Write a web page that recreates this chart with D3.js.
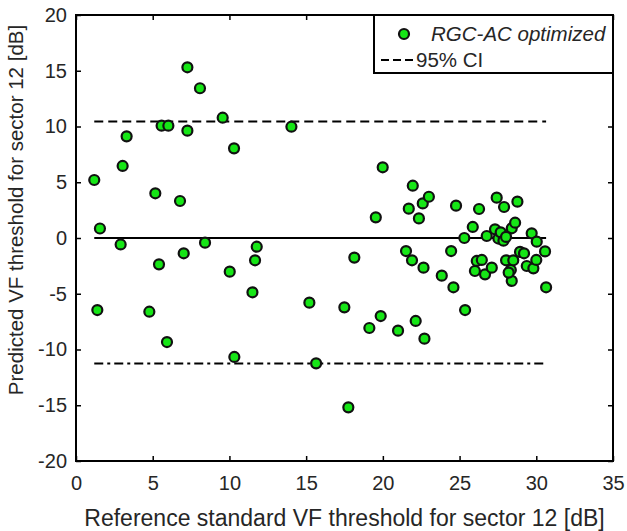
<!DOCTYPE html>
<html>
<head>
<meta charset="utf-8">
<script src="https://cdn.jsdelivr.net/npm/d3@7.9.0/dist/d3.min.js"></script>
<style>
  body { margin: 0; background: #fff; }
  svg { display: block; font-family: "Liberation Sans", Arial, sans-serif; }
</style>
</head>
<body>
<svg id="chart" width="627" height="531"></svg>
<script>
// reference VF threshold (x) vs predicted (y)
const refX = [
  1.19, 1.56, 1.39, 2.91, 3.04, 3.30, 4.78, 5.17, 5.41, 5.58,
  6.02, 5.93, 6.78, 7.02, 7.26, 7.26, 8.08, 8.41, 9.56, 10.02,
  10.30, 10.32, 11.50, 11.67, 11.78, 14.04, 15.21, 15.65, 17.49, 17.75,
  18.14, 19.12, 19.54, 19.86, 19.99, 20.99, 21.51, 21.69, 21.90, 21.95,
  22.14, 22.35, 22.60, 22.65, 22.71, 23.00, 23.84, 24.45, 24.60, 24.77,
  25.31, 25.36, 25.86, 26.00, 26.12, 26.27, 26.45, 26.66, 26.77, 27.10,
  27.31, 27.42, 27.53, 27.68, 27.86, 27.90, 28.03, 28.34, 28.40, 28.40,
  28.50, 28.62, 28.77, 28.94, 29.20, 29.38, 29.70, 29.81, 30.00, 30.03,
  30.57, 30.64, 28.20, 28.03
];
const predY = [
  5.20, 0.85, -6.46, -0.58, 6.46, 9.12, -6.61, 4.01, -2.36, 10.07,
  10.07, -9.33, 3.32, -1.37, 15.31, 9.63, 13.43, -0.42, 10.79, -3.02,
  8.04, -10.67, -4.87, -2.00, -0.78, 9.98, -5.80, -11.24, -6.22, -15.19,
  -1.76, -8.07, 1.85, -7.00, 6.34, -8.31, -1.17, 2.63, -2.00, 4.69,
  -7.44, 1.76, 3.10, -2.66, -9.03, 3.70, -3.38, -1.17, -4.42, 2.90,
  0.00, -6.46, 0.99, -2.96, -2.06, 2.60, -1.97, -3.26, 0.18, -2.66,
  0.78, 3.62, -0.05, 0.51, -0.24, 2.78, -2.00, -2.87, -3.85, 0.87,
  -2.00, 1.37, 3.26, -1.25, -1.37, -2.51, 0.42, -2.72, -1.97, -0.33,
  -1.20, -4.42, -3.10, 0.10
];

const ciUpper = 10.45;
const ciLower = -11.25;
const meanLine = 0;

const xTicks = [0, 5, 10, 15, 20, 25, 30, 35];
const yTicks = [-20, -15, -10, -5, 0, 5, 10, 15, 20];

const legendLabels = ['RGC-AC optimized', '95% CI'];

const svg = d3.select('#chart');
const L = 76, R = 613, T = 15, B = 461;
const ink = '#262626';

const x = d3.scaleLinear().domain([0, 35]).range([L, R]);
const y = d3.scaleLinear().domain([-20, 20]).range([B, T]);
const fmt = d => String(d);   // plain hyphen for negatives, like the original

// axes (ticks point inward, mirrored on top/right)
svg.append('g').attr('transform', `translate(0,${B})`)
  .call(d3.axisBottom(x).tickValues(xTicks).tickFormat(fmt).tickSizeInner(-5).tickSizeOuter(0).tickPadding(15))
  .call(g => g.select('.domain').remove());
svg.append('g').attr('transform', `translate(0,${T})`)
  .call(d3.axisTop(x).tickValues(xTicks).tickSizeInner(-5).tickSizeOuter(0).tickFormat(''))
  .call(g => g.select('.domain').remove());
svg.append('g').attr('transform', `translate(${L},0)`)
  .call(d3.axisLeft(y).tickValues(yTicks).tickFormat(fmt).tickSizeInner(-5).tickSizeOuter(0).tickPadding(9))
  .call(g => g.select('.domain').remove());
svg.append('g').attr('transform', `translate(${R},0)`)
  .call(d3.axisRight(y).tickValues(yTicks).tickSizeInner(-5).tickSizeOuter(0).tickFormat(''))
  .call(g => g.select('.domain').remove());

svg.selectAll('.tick text')
  .attr('font-size', 20)
  .attr('font-family', '"Liberation Sans", Arial, sans-serif')
  .attr('fill', ink);
svg.selectAll('.tick line').attr('stroke', '#000').attr('stroke-width', 1.5);

svg.append('rect')
  .attr('x', L).attr('y', T).attr('width', R - L).attr('height', B - T)
  .attr('fill', 'none').attr('stroke', '#000').attr('stroke-width', 2);

// reference lines spanning the data range
const xExt = d3.extent(refX);
const hLine = (v, dash) => svg.append('line')
  .attr('x1', x(xExt[0])).attr('x2', x(xExt[1]))
  .attr('y1', y(v)).attr('y2', y(v))
  .attr('stroke', '#000').attr('stroke-width', 2)
  .attr('stroke-dasharray', dash);
hLine(ciUpper, '9,5');
hLine(meanLine, null);
hLine(ciLower, '9,4,3,4');

// points
svg.append('g').selectAll('circle')
  .data(d3.range(refX.length))
  .join('circle')
  .attr('cx', i => x(refX[i]))
  .attr('cy', i => y(predY[i]))
  .attr('r', 5)
  .attr('fill', '#16e616')
  .attr('stroke', '#111')
  .attr('stroke-width', 2.2);

// axis labels
svg.append('text')
  .attr('x', (L + R) / 2).attr('y', 526)
  .attr('text-anchor', 'middle').attr('font-size', 23).attr('fill', ink)
  .text('Reference standard VF threshold for sector 12 [dB]');
svg.append('text')
  .attr('transform', 'translate(23,210) rotate(-90)')
  .attr('text-anchor', 'middle').attr('font-size', 20.5).attr('fill', ink)
  .text('Predicted VF threshold for sector 12 [dB]');

// legend
const lg = svg.append('g');
lg.append('rect')
  .attr('x', 374).attr('y', T).attr('width', R - 374).attr('height', 58)
  .attr('fill', '#fff').attr('stroke', '#000').attr('stroke-width', 2);
lg.append('circle')
  .attr('cx', 404).attr('cy', 34).attr('r', 5)
  .attr('fill', '#16e616').attr('stroke', '#111').attr('stroke-width', 2.2);
lg.append('text')
  .attr('x', 431).attr('y', 41).attr('font-size', 20.5).attr('font-style', 'italic').attr('fill', ink)
  .text(legendLabels[0]);
lg.append('line')
  .attr('x1', 381).attr('x2', 413).attr('y1', 60).attr('y2', 60)
  .attr('stroke', '#000').attr('stroke-width', 2).attr('stroke-dasharray', '8,4');
lg.append('text')
  .attr('x', 416).attr('y', 67).attr('font-size', 20.5).attr('fill', ink)
  .text(legendLabels[1]);
</script>
</body>
</html>
